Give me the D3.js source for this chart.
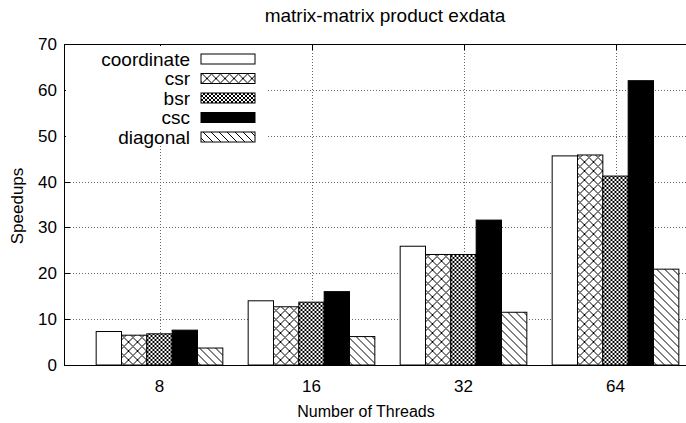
<!DOCTYPE html>
<html>
<head>
<meta charset="utf-8">
<script src="https://cdn.jsdelivr.net/npm/d3@7"></script>
<style>
  body { margin: 0; background: #fff; }
  svg { display: block; }
  text { font-family: "Liberation Sans", Arial, sans-serif; fill: #000; }
</style>
</head>
<body>
<div id="chart"></div>
<script>
var threads = ["8", "16", "32", "64"]
var seriesNames = ["coordinate", "csr", "bsr", "csc", "diagonal"]
var coordinate = [7.3, 14.0, 25.9, 45.6]
var csr = [6.5, 12.7, 24.1, 45.8]
var bsr = [6.8, 13.7, 24.1, 41.2]
var csc = [7.6, 16.0, 31.6, 62.0]
var diagonal = [3.7, 6.2, 11.5, 20.9]
var yTicks = [0, 10, 20, 30, 40, 50, 60, 70]

var values = { coordinate: coordinate, csr: csr, bsr: bsr, csc: csc, diagonal: diagonal }

var W = 686, H = 423
// plot box (right edge lies off the canvas, like the cropped original)
var pL = 64, pR = 708, pT = 44, pB = 365

var svg = d3.select("#chart").append("svg")
  .attr("width", W)
  .attr("height", H)

// fill patterns, gnuplot style
var defs = svg.append("defs")

var pCsr = defs.append("pattern").attr("id", "p-csr")
  .attr("patternUnits", "userSpaceOnUse").attr("width", 9).attr("height", 9)
pCsr.append("rect").attr("width", 9).attr("height", 9).attr("fill", "#fff")
pCsr.append("path").attr("d", "M0,0L9,9M9,0L0,9").attr("stroke", "#000").attr("stroke-width", 1)

var pBsr = defs.append("pattern").attr("id", "p-bsr")
  .attr("patternUnits", "userSpaceOnUse").attr("width", 4).attr("height", 4)
pBsr.append("rect").attr("width", 4).attr("height", 4).attr("fill", "#fff")
pBsr.append("path").attr("d", "M0,0L4,4M4,0L0,4").attr("stroke", "#000").attr("stroke-width", 1)

var pDiag = defs.append("pattern").attr("id", "p-diag")
  .attr("patternUnits", "userSpaceOnUse").attr("width", 8).attr("height", 8)
pDiag.append("rect").attr("width", 8).attr("height", 8).attr("fill", "#fff")
pDiag.append("path").attr("d", "M0,0L8,8M-4,4L4,12M4,-4L12,4").attr("stroke", "#000").attr("stroke-width", 1)

var fills = {
  coordinate: "#fff",
  csr: "url(#p-csr)",
  bsr: "url(#p-bsr)",
  csc: "#000",
  diagonal: "url(#p-diag)"
}

var x = d3.scaleBand()
  .domain(threads)
  .range([83.5, 83.5 + 152 * 4])
  .padding(0)

var xs = d3.scaleBand()
  .domain(seriesNames)
  .range([0, x.bandwidth()])
  .paddingInner(0)
  .paddingOuter(0.5)

var y = d3.scaleLinear()
  .domain([0, 70])
  .range([pB, pT])

var cx = d => Math.round(x(d) + x.bandwidth() / 2) + 0.5

// grid
var grid = svg.append("g")
grid.selectAll("hl")
  .data(yTicks.filter(d => d > 0 && d < 70))
  .enter().append("line")
  .attr("x1", pL).attr("x2", pR)
  .attr("y1", d => Math.round(y(d)) + 0.5).attr("y2", d => Math.round(y(d)) + 0.5)
  .attr("stroke", "#666").attr("stroke-width", 1).attr("stroke-dasharray", "1,2")
grid.selectAll("vl")
  .data(threads)
  .enter().append("line")
  .attr("x1", cx).attr("x2", cx)
  .attr("y1", pT).attr("y2", pB)
  .attr("stroke", "#666").attr("stroke-width", 1).attr("stroke-dasharray", "1,2")

// ticks on left axis and top
svg.selectAll("ytick")
  .data(yTicks)
  .enter().append("line")
  .attr("x1", pL).attr("x2", pL + 6)
  .attr("y1", d => Math.round(y(d)) + 0.5).attr("y2", d => Math.round(y(d)) + 0.5)
  .attr("stroke", "#000")
svg.selectAll("xtick")
  .data(threads)
  .enter().append("line")
  .attr("x1", cx).attr("x2", cx)
  .attr("y1", pT).attr("y2", pT + 6)
  .attr("stroke", "#000")

// bars
var groups = svg.selectAll(".grp")
  .data(threads)
  .enter().append("g")
  .attr("class", "grp")
  .attr("transform", d => "translate(" + x(d) + ",0)")

groups.selectAll("rect")
  .data((d, i) => seriesNames.map(s => ({ s: s, v: values[s][i] })))
  .enter().append("rect")
  .attr("x", d => xs(d.s))
  .attr("width", xs.bandwidth())
  .attr("y", d => y(d.v))
  .attr("height", d => pB - y(d.v))
  .attr("fill", d => fills[d.s])
  .attr("stroke", "#000")
  .attr("stroke-width", 1)

// legend (opaque key area)
var key = svg.append("g")
key.append("rect")
  .attr("x", 66).attr("y", 46).attr("width", 200).attr("height", 100)
  .attr("fill", "#fff")
var rows = key.selectAll(".row")
  .data(seriesNames)
  .enter().append("g")
  .attr("transform", (d, i) => "translate(0," + (59 + i * 19.5) + ")")
rows.append("text")
  .attr("x", 190)
  .attr("y", 0)
  .attr("dy", "0.35em")
  .attr("text-anchor", "end")
  .style("font-size", "19px")
  .text(d => d)
rows.append("rect")
  .attr("x", 201).attr("y", -5)
  .attr("width", 54).attr("height", 10)
  .attr("fill", d => fills[d])
  .attr("stroke", "#000")

// border
svg.append("path")
  .attr("d", "M" + (pL + 0.5) + "," + (pT + 0.5) + "L" + pR + "," + (pT + 0.5) +
    "M" + (pL + 0.5) + "," + pT + "L" + (pL + 0.5) + "," + (pB + 0.5) +
    "L" + pR + "," + (pB + 0.5))
  .attr("fill", "none").attr("stroke", "#000")

// tick labels
svg.selectAll("ylab")
  .data(yTicks)
  .enter().append("text")
  .attr("x", 57)
  .attr("y", d => y(d))
  .attr("dy", "0.35em")
  .attr("text-anchor", "end")
  .style("font-size", "17px")
  .text(d => d)

svg.selectAll("xlab")
  .data(threads)
  .enter().append("text")
  .attr("x", d => x(d) + x.bandwidth() / 2)
  .attr("y", 386)
  .attr("dy", "0.35em")
  .attr("text-anchor", "middle")
  .style("font-size", "17px")
  .text(d => d)

svg.append("text")
  .attr("x", 366).attr("y", 411).attr("dy", "0.35em")
  .attr("text-anchor", "middle")
  .style("font-size", "16px")
  .text("Number of Threads")

svg.append("text")
  .attr("transform", "translate(17,206) rotate(-90)")
  .attr("dy", "0.35em")
  .attr("text-anchor", "middle")
  .style("font-size", "17px")
  .text("Speedups")

svg.append("text")
  .attr("x", 385).attr("y", 15).attr("dy", "0.35em")
  .attr("text-anchor", "middle")
  .style("font-size", "19px")
  .text("matrix-matrix product exdata")
</script>
</body>
</html>
